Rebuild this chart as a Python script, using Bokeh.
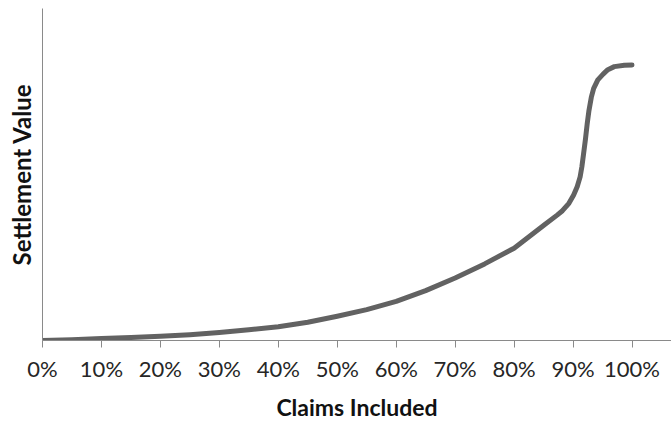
from bokeh.plotting import figure
from bokeh.models import Range1d, FixedTicker, PrintfTickFormatter
from bokeh.embed import file_html
from bokeh.resources import INLINE

# Data (percent of claims included vs. relative settlement value)
claims_pct = [0, 5, 10, 15, 20, 25, 30, 35, 40, 45, 50, 55, 60, 65, 70, 75, 80,
              85.1, 87.3, 88.2, 89.3, 90.1, 90.7, 91.2, 91.5, 91.8, 92.1, 92.4,
              92.7, 93.1, 93.5, 94.2, 95.1, 95.9, 97.0, 98.7, 100]
settlement_value = [0, 0.3, 0.7, 1.1, 1.5, 2.1, 2.9, 3.9, 5.0, 6.6, 8.8, 11.2, 14.2,
                    18.1, 22.7, 27.8, 33.5, 41.9, 45.5, 47.1, 49.8, 52.8, 55.8,
                    59.4, 63.1, 68.0, 73.0, 78.7, 83.5, 88.3, 91.5, 94.6, 96.7,
                    98.3, 99.4, 99.9, 100]
tick_values = [0, 10, 20, 30, 40, 50, 60, 70, 80, 90, 100]
x_title = "Claims Included"
y_title = "Settlement Value"

p = figure(width=671, height=423, output_backend="svg", toolbar_location=None,
           x_range=Range1d(0, 106.7), y_range=Range1d(0, 120.5),
           min_border_left=42, min_border_right=0, min_border_top=8,
           min_border_bottom=80)
p.outline_line_color = None
p.grid.visible = False
p.background_fill_color = "white"
p.border_fill_color = "white"

p.line(claims_pct, settlement_value, line_color="#626262", line_width=5,
       line_join="round", line_cap="round")

axis_color = "#8a8a8a"
xa = p.xaxis[0]
xa.ticker = FixedTicker(ticks=tick_values)
xa.formatter = PrintfTickFormatter(format="%d%%")
xa.axis_line_color = axis_color
xa.major_tick_line_color = axis_color
xa.major_tick_in = 0
xa.major_tick_out = 7
xa.minor_tick_line_color = None
xa.major_label_standoff = 7
xa.major_label_text_font = "Lato"
xa.major_label_text_font_size = "22px"
xa.major_label_text_color = "#262626"
xa.axis_label = x_title
xa.axis_label_text_font = "Lato"
xa.axis_label_text_font_style = "bold"
xa.axis_label_text_font_size = "23px"
xa.axis_label_text_color = "#111111"
xa.axis_label_standoff = 8

ya = p.yaxis[0]
ya.ticker = FixedTicker(ticks=[])
ya.axis_line_color = axis_color
ya.major_tick_line_color = None
ya.minor_tick_line_color = None
ya.major_label_text_font_size = "0px"
ya.axis_label = y_title
ya.axis_label_text_font = "Lato"
ya.axis_label_text_font_style = "bold"
ya.axis_label_text_font_size = "24px"
ya.axis_label_text_color = "#111111"
ya.axis_label_standoff = 7

open("out.html", "w").write(file_html(p, INLINE))
